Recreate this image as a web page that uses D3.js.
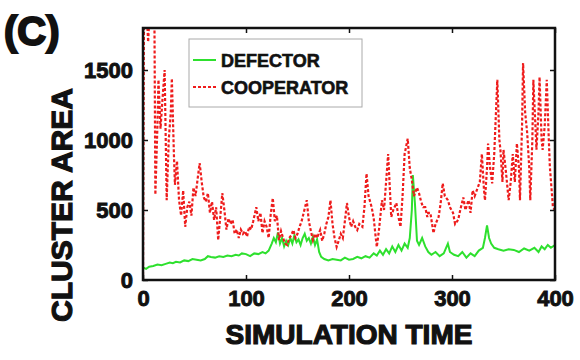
<!DOCTYPE html>
<html lang="en">
<head>
    <meta charset="UTF-8">
    <title>Cluster area</title>
    <style>
        body { margin: 0; background: #fff; }
        svg text { font-family: "Liberation Sans", Arial, sans-serif; font-weight: bold; fill: #111; }
        .heavy { stroke: #111; stroke-width: 0.9px; }
    </style>
</head>
<body>
<div id="chart"></div>

<script src="https://cdn.jsdelivr.net/npm/d3@7"></script>
<script>
    // cooperator cluster area (red dashed)
    let coopTime = [0, 1, 3, 5, 7, 9, 11, 12, 14, 15, 17, 19, 21, 23, 25, 27, 28, 30, 31, 33, 35, 37, 39, 41, 43, 45, 47, 49,
        51, 53, 55, 57, 59, 61, 63, 65, 67, 69, 71, 73, 75, 77, 79, 81, 83, 85, 87, 89, 91, 93, 95, 97, 99, 101, 103, 105, 107,
        110, 112, 114, 116, 118, 120, 122, 124, 126, 128, 130, 132, 134, 136, 138, 140, 142, 144, 146, 148, 150, 152, 154, 156,
        159, 161, 163, 165, 167, 169, 172, 174, 176, 178, 180, 182, 184, 186, 188, 190, 192, 194, 196, 198, 200, 202, 204, 206,
        208, 210, 213, 215, 217, 219, 222, 224, 226, 227, 229, 232, 234, 236, 238, 240, 241, 243, 246, 248, 250, 252, 254, 257,
        259, 261, 263, 266, 268, 270, 272, 274, 276, 277, 279, 282, 284, 287, 289, 291, 293, 296, 298, 301, 303, 306, 308, 311,
        313, 316, 318, 320, 322, 325, 327, 329, 331, 332, 334, 335, 337, 339, 341, 344, 346, 347, 349, 350, 352, 355, 357, 359,
        361, 363, 365, 366, 368, 369, 371, 373, 375, 376, 378, 379, 381, 382, 384, 385, 387, 388, 390, 392, 394, 395, 398, 400]
    let coopArea = [0, 2000, 2000, 1700, 2000, 1900, 2000, 610, 1100, 1430, 1080, 1300, 1500, 570, 1000, 1200, 1440, 900, 680, 850,
        570, 460, 640, 380, 520, 560, 460, 660, 600, 720, 835, 700, 590, 560, 620, 480, 560, 430, 520, 285, 450, 620, 500, 360,
        440, 400, 430, 330, 360, 300, 360, 330, 350, 310, 380, 360, 420, 520, 420, 480, 335, 420, 380, 300, 470, 585, 420, 460,
        285, 350, 300, 260, 250, 300, 320, 357, 300, 330, 380, 420, 480, 570, 420, 350, 285, 330, 300, 357, 280, 330, 400, 450,
        570, 400, 300, 236, 280, 330, 300, 420, 550, 450, 380, 420, 380, 357, 400, 380, 520, 760, 600, 520, 440, 300, 236, 350,
        570, 500, 700, 900, 600, 450, 500, 550, 450, 380, 600, 900, 1010, 800, 715, 600, 660, 620, 560, 520, 520, 450, 480, 480,
        335, 400, 450, 550, 690, 600, 570, 520, 480, 400, 430, 500, 590, 500, 570, 480, 640, 600, 660, 700, 900, 650, 570, 800,
        975, 800, 690, 900, 1430, 1000, 930, 700, 930, 800, 570, 700, 900, 700, 975, 800, 570, 1100, 1550, 1200, 1050, 800, 570,
        1000, 1430, 1100, 930, 1200, 1450, 1000, 930, 1100, 1430, 1000, 810, 520, 500]

    // defector cluster area (green solid)
    let defTime = [0, 3, 6, 10, 14, 18, 22, 26, 29, 32, 36, 40, 44, 48, 52, 56, 60, 63, 66, 70, 74, 78, 82, 86, 90, 93, 96, 100,
        104, 108, 112, 116, 119, 122, 125, 127, 129, 131, 133, 135, 137, 139, 141, 143, 145, 147, 149, 151, 153, 155, 157, 159,
        161, 163, 165, 167, 169, 171, 173, 176, 180, 184, 188, 192, 196, 200, 204, 208, 212, 216, 220, 224, 227, 230, 233, 236,
        239, 242, 245, 248, 251, 254, 257, 259, 261, 262, 264, 266, 268, 271, 274, 277, 280, 284, 288, 292, 296, 298, 302, 306,
        310, 314, 318, 322, 326, 330, 332, 334, 336, 338, 341, 345, 350, 355, 360, 365, 370, 375, 380, 384, 387, 390, 393, 396, 400]
    let defArea = [90, 80, 95, 100, 110, 105, 115, 125, 120, 130, 125, 140, 135, 150, 145, 140, 150, 170, 165, 160, 170, 165, 175,
        170, 180, 175, 190, 185, 170, 190, 185, 200, 190, 210, 260, 300, 270, 340, 260, 300, 240, 280, 250, 300, 260, 320, 270,
        290, 250, 300, 330, 280, 300, 260, 310, 250, 290, 200, 165, 150, 140, 150, 145, 140, 160, 145, 150, 165, 155, 170, 160,
        190, 175, 210, 180, 220, 190, 240, 200, 250, 210, 260, 230, 300, 500, 750, 550, 280, 250, 300, 240, 200, 180, 200, 170,
        190, 260, 200, 180, 170, 200, 160, 190, 170, 210, 230, 300, 390, 300, 260, 230, 220, 210, 220, 215, 200, 225, 210, 230,
        200, 240, 220, 250, 230, 250]

    let xTicks = [0, 100, 200, 300, 400]
    let yTicks = [0, 500, 1000, 1500]
    let seriesNames = ['DEFECTOR', 'COOPERATOR']

    let width = 580, height = 360
    let m = {left: 143, right: 25, top: 28, bottom: 80}
    let pw = width - m.left - m.right, ph = height - m.top - m.bottom

    let svg = d3.select('#chart').append('svg')
        .attr('width', width)
        .attr('height', height)
    svg.append('rect').attr('width', width).attr('height', height).attr('fill', '#fff')

    let x = d3.scaleLinear().domain([0, 400]).range([m.left, m.left + pw])
    let y = d3.scaleLinear().domain([0, 1800]).range([m.top + ph, m.top])

    svg.append('clipPath').attr('id', 'clip')
        .append('rect').attr('x', m.left).attr('y', m.top).attr('width', pw).attr('height', ph)

    let line = d3.line().x(d => x(d[0])).y(d => y(d[1]))
    let defData = defTime.map((t, i) => [t, defArea[i]])
    let coopData = coopTime.map((t, i) => [t, coopArea[i]])

    let plot = svg.append('g').attr('clip-path', 'url(#clip)')
    plot.append('path').datum(defData)
        .attr('d', line)
        .attr('fill', 'none')
        .attr('stroke', '#2ee02e')
        .attr('stroke-width', 2)
    plot.append('path').datum(coopData)
        .attr('d', line)
        .attr('fill', 'none')
        .attr('stroke', '#ee1c1c')
        .attr('stroke-width', 2.2)
        .attr('stroke-dasharray', '3,2')

    // axes, ticks inside on all sides
    let tl = 5
    let fmt = d3.format('d')
    svg.append('g').attr('transform', `translate(0,${m.top + ph})`)
        .call(d3.axisBottom(x).tickValues(xTicks).tickFormat(fmt).tickSizeInner(-tl).tickSizeOuter(0).tickPadding(10))
    svg.append('g').attr('transform', `translate(0,${m.top})`)
        .call(d3.axisTop(x).tickValues(xTicks).tickSizeInner(-tl).tickSizeOuter(0).tickFormat(''))
    svg.append('g').attr('transform', `translate(${m.left},0)`)
        .call(d3.axisLeft(y).tickValues(yTicks).tickFormat(fmt).tickSizeInner(-tl).tickSizeOuter(0).tickPadding(10))
    svg.append('g').attr('transform', `translate(${m.left + pw},0)`)
        .call(d3.axisRight(y).tickValues(yTicks).tickSizeInner(-tl).tickSizeOuter(0).tickFormat(''))

    svg.selectAll('.domain').remove()
    svg.selectAll('.tick line').attr('stroke', '#111').attr('stroke-width', 1.5)
    svg.selectAll('.tick text')
        .attr('class', 'heavy')
        .style('font-size', '22px')
        .style('font-family', '"Liberation Sans", Arial, sans-serif')
        .style('font-weight', 'bold')
        .attr('fill', '#111')

    svg.append('rect')
        .attr('x', m.left).attr('y', m.top)
        .attr('width', pw).attr('height', ph)
        .attr('fill', 'none')
        .attr('stroke', '#111')
        .attr('stroke-width', 2.5)

    // legend
    let lg = svg.append('g')
    lg.append('rect')
        .attr('x', 189).attr('y', 39).attr('width', 173).attr('height', 68)
        .attr('fill', '#fff').attr('stroke', '#aaa').attr('stroke-width', 1)
    let styles = [
        {stroke: '#2ee02e', dash: null},
        {stroke: '#ee1c1c', dash: '3,2'}
    ]
    seriesNames.forEach((name, i) => {
        let yy = 60 + i * 27
        lg.append('line')
            .attr('x1', 193).attr('x2', 216).attr('y1', yy).attr('y2', yy)
            .attr('stroke', styles[i].stroke)
            .attr('stroke-width', 2)
            .attr('stroke-dasharray', styles[i].dash)
        lg.append('text')
            .attr('class', 'heavy')
            .attr('x', 221).attr('y', yy + 7)
            .style('font-size', '18px')
            .style('stroke-width', '0.6px')
            .text(name)
    })

    // titles
    svg.append('text')
        .attr('class', 'heavy')
        .attr('x', 4).attr('y', 45)
        .style('font-size', '40px')
        .style('stroke-width', '2px')
        .text('(C)')

    svg.append('text')
        .attr('class', 'heavy')
        .attr('x', (m.left + m.left + pw) / 2).attr('y', 344)
        .attr('text-anchor', 'middle')
        .style('font-size', '28px')
        .style('stroke-width', '1.2px')
        .text('SIMULATION TIME')

    svg.append('text')
        .attr('class', 'heavy')
        .attr('transform', `translate(72,205) rotate(-90)`)
        .attr('text-anchor', 'middle')
        .style('font-size', '30px')
        .style('stroke-width', '1.2px')
        .text('CLUSTER AREA')
</script>
</body>
</html>
